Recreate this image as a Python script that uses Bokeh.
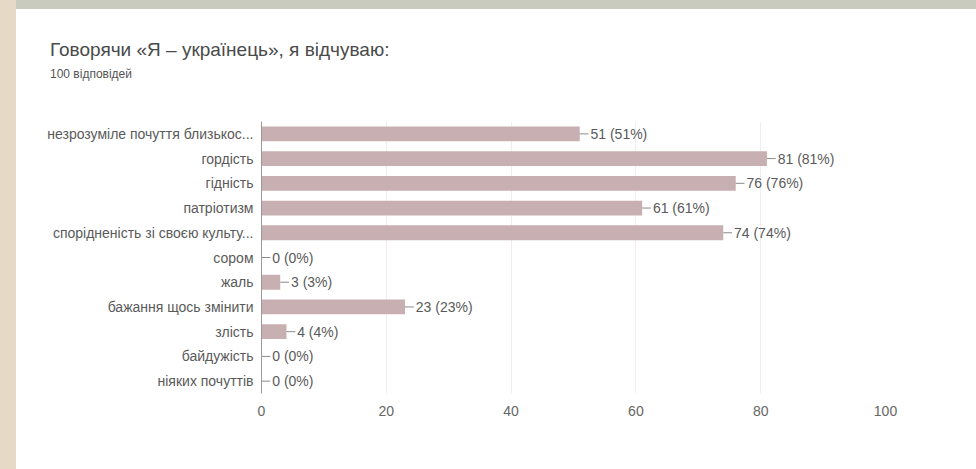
from bokeh.plotting import figure
from bokeh.models import ColumnDataSource, FactorRange, FixedTicker, Div, Spacer
from bokeh.layouts import row, column
from bokeh.embed import file_html
from bokeh.resources import INLINE
from bokeh.core.properties import value

title_text = "Говорячи «Я – українець», я відчуваю:"
subtitle_text = "100 відповідей"
categories = [
    "незрозуміле почуття близькос...",
    "гордість",
    "гідність",
    "патріотизм",
    "спорідненість зі своєю культу...",
    "сором",
    "жаль",
    "бажання щось змінити",
    "злість",
    "байдужість",
    "ніяких почуттів",
]
counts = [51, 81, 76, 61, 74, 0, 3, 23, 4, 0, 0]
total = 100
x_ticks = [0, 20, 40, 60, 80, 100]

FONT = "Liberation Sans"
STEM = 1.4
labels = [f"{c} ({round(c * 100 / total)}%)" for c in counts]
src = ColumnDataSource(dict(
    cat=categories,
    cnt=counts,
    stem_end=[c + STEM for c in counts],
    lab=labels,
))

p = figure(width=960, height=360,
           y_range=FactorRange(factors=categories[::-1]),
           x_range=(0, 100),
           output_backend="svg", toolbar_location=None,
           min_border_left=245, min_border_right=91,
           min_border_top=12, min_border_bottom=76)
p.outline_line_color = None
p.background_fill_color = "white"
p.border_fill_color = "white"

p.hbar(y="cat", right="cnt", left=0, height=0.6, source=src,
       fill_color="#c8b0b2", line_color=None)
p.segment(x0="cnt", x1="stem_end", y0="cat", y1="cat", source=src,
          line_color="#8a8a8a", line_width=1)
p.text(x="stem_end", y="cat", text="lab", source=src, x_offset=2,
       text_font=value(FONT), text_font_size="14px", text_color="#5a5a5a",
       text_baseline="middle", text_align="left")

p.xaxis.ticker = FixedTicker(ticks=x_ticks)
p.xaxis.axis_line_color = None
p.xaxis.major_tick_line_color = None
p.xaxis.minor_tick_line_color = None
p.xaxis.major_label_standoff = 6
p.xaxis.major_label_text_font = FONT
p.xaxis.major_label_text_font_size = "14px"
p.xaxis.major_label_text_color = "#666666"

p.yaxis.axis_line_color = "#9a9a9a"
p.yaxis.major_tick_line_color = None
p.yaxis.minor_tick_line_color = None
p.yaxis.major_label_standoff = 2
p.yaxis.major_label_text_font = FONT
p.yaxis.major_label_text_font_size = "14px"
p.yaxis.major_label_text_color = "#5a5a5a"

p.xgrid.grid_line_color = "#eeeeee"
p.ygrid.grid_line_color = None

header = Div(
    text=(
        f'<div style="padding-left:34px;font-family:\'{FONT}\';">'
        f'<div style="font-size:19px;line-height:22px;margin-top:30px;color:#4a4a4a;">{title_text}</div>'
        f'<div style="font-size:12px;line-height:14px;margin-top:6px;color:#555555;">{subtitle_text}</div>'
        '</div>'
    ),
    width=960, height=100,
    styles={"background-color": "white", "margin": "0", "padding": "0"},
)
top_strip = Spacer(width=960, height=9, styles={"background-color": "#c9cbbf"})
left_strip = Spacer(width=16, height=469, styles={"background-color": "#e6dac6"})

layout = row(left_strip, column(top_strip, header, p, spacing=0), spacing=0)

open("out.html", "w").write(file_html(layout, INLINE))
